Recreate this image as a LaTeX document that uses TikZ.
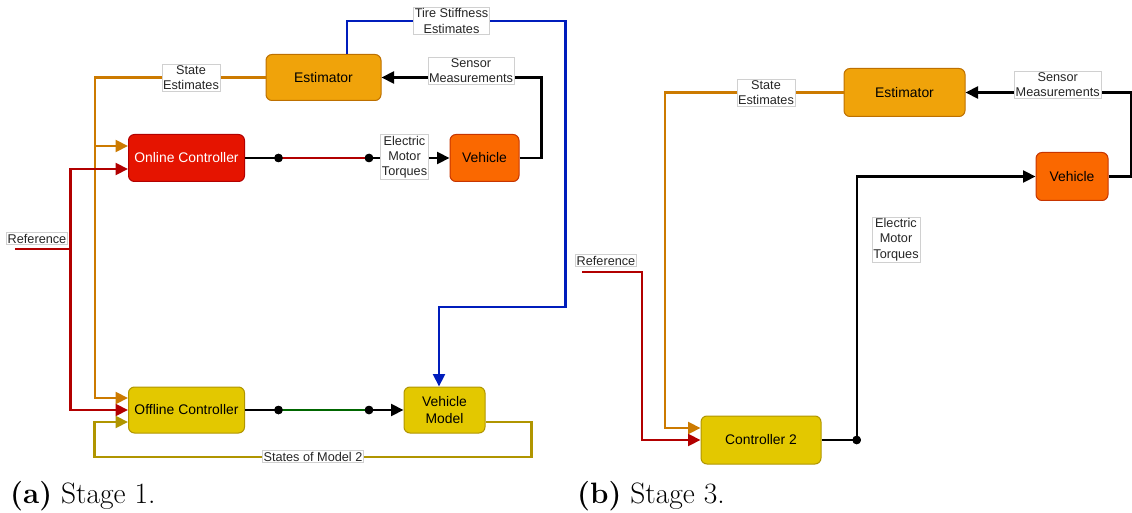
\documentclass[tikz,border=0pt]{standalone}
\usepackage{fontspec}
\newfontfamily\dsans{Liberation Sans}
\usetikzlibrary{arrows.meta,calc}
\definecolor{estF}{HTML}{F0A30A}\definecolor{estD}{HTML}{BD7000}
\definecolor{onF}{HTML}{E51400}\definecolor{onD}{HTML}{B20000}
\definecolor{vehF}{HTML}{FA6800}\definecolor{vehD}{HTML}{C73500}
\definecolor{offF}{HTML}{E3C800}\definecolor{offD}{HTML}{B09500}
\definecolor{orL}{HTML}{CC7A00}\definecolor{redL}{HTML}{B20000}
\definecolor{bluL}{HTML}{001DBC}\definecolor{grnL}{HTML}{006600}
\definecolor{olL}{HTML}{B09500}\definecolor{lblD}{HTML}{D0D0D0}
\tikzset{
  blockbox/.style={draw, rounded corners=6pt, line width=1pt, align=center, inner sep=0pt,
    font=\dsans\fontsize{13.9}{16.5}\selectfont},
  estbox/.style={blockbox, fill=estF, draw=estD},
  onbox/.style={blockbox, fill=onF, draw=onD, text=white},
  vehbox/.style={blockbox, fill=vehF, draw=vehD},
  offbox/.style={blockbox, fill=offF, draw=offD},
  lbl/.style={fill=white, draw=lblD, line width=0.5pt, inner sep=1.2pt, align=center,
    font=\dsans\fontsize{12.7}{15.2}\selectfont, text=black!85},
  wire/.style={line width=2.2pt},
  tip/.style={-{Triangle[length=12.5pt,width=12pt]}},
  jdot/.style={circle, fill=black, inner sep=0pt, minimum size=8.5pt},
  capt/.style={anchor=base west, inner sep=0pt, font=\fontsize{29.5}{33}\selectfont}
}
\begin{document}
\begin{tikzpicture}[x=1pt,y=-1pt]
\useasboundingbox (0,0) rectangle (1132,513);
% ---------- panel (a) ----------
\node[estbox, minimum width=115pt, minimum height=46pt] (estA) at (323.5,77.5) {Estimator};
\node[onbox, minimum width=116pt, minimum height=47pt] (onA) at (186.5,158) {Online Controller};
\node[vehbox, minimum width=69pt, minimum height=47pt] (vehA) at (484.5,158) {Vehicle};
\node[offbox, minimum width=116pt, minimum height=46pt] (offA) at (186.5,410) {Offline Controller};
\node[offbox, minimum width=81pt, minimum height=46pt] (vmA) at (444.5,410) {Vehicle\\Model};
\node[jdot] (d1) at (278.5,158) {};
\node[jdot] (d2) at (369,158) {};
\node[jdot] (d3) at (278.5,410) {};
\node[jdot] (d4) at (369,410) {};
\coordinate (refA) at (15,249);
% wires
\draw[wire, orL, tip] (estA.west) -| (95,398) -- ($(offA.west)+(0,-12)$);
\draw[wire, orL, tip] (95,146) -- ($(onA.west)+(0,-12)$);
\draw[wire, redL, tip] (refA) -| (70.5,169) -- ($(onA.west)+(0,11)$);
\draw[wire, redL, tip] (70.5,249) -- (70.5,410) -- (offA.west);
\draw[wire, olL, tip] ($(vmA.east)+(0,12)$) -- (531.5,422) -- (531.5,456.7) -- (94.5,456.7) -- (94.5,422) -- ($(offA.west)+(0,12)$);
\draw[wire, black] (onA.east) -- (d1.center);
\draw[wire, redL] (d1.center) -- (d2.center);
\draw[wire, black, tip] (d2.center) -- (vehA.west);
\draw[wire, black] (offA.east) -- (d3.center);
\draw[wire, grnL] (d3.center) -- (d4.center);
\draw[wire, black, tip] (d4.center) -- (vmA.west);
\draw[wire, black, tip] (vehA.east) -- (541.5,158) -- (541.5,77.5) -- (estA.east);
\draw[wire, bluL, tip] ($(estA.north)+(23.5,0)$) |- (565.5,21) |- (439,306.7) -- ($(vmA.north)+(-5.5,0)$);
\node[jdot] at (d1) {};\node[jdot] at (d2) {};\node[jdot] at (d3) {};\node[jdot] at (d4) {};
% labels
\node[lbl] (lStA) at (191,77.5) {State\\Estimates};
\node[lbl] (lSmA) at (471,71) {Sensor\\Measurements};
\node[lbl] (lTs) at (451.5,21) {Tire Stiffness\\Estimates};
\node[lbl] (lEmA) at (404.5,157) {Electric\\Motor\\Torques};
\node[lbl] (lRefA) at (37,238.5) {Reference};
\node[lbl] (lSm2) at (313,456.5) {States of Model 2};
\node[capt] (capA) at (10,503) {\textbf{(a)} Stage 1.};
% ---------- panel (b) ----------
\node[estbox, minimum width=121pt, minimum height=48pt] (estB) at (904.5,92.5) {Estimator};
\node[vehbox, minimum width=72pt, minimum height=48pt] (vehB) at (1072,176.5) {Vehicle};
\node[offbox, minimum width=120pt, minimum height=48pt] (c2) at (761,440) {Controller 2};
\node[jdot] (dB) at (856.7,440) {};
\coordinate (refB) at (582,272);
\draw[wire, orL, tip] (estB.west) -| (665,428) -- ($(c2.west)+(0,-12)$);
\draw[wire, redL, tip] (refB) -| (641.7,440) -- (c2.west);
\draw[wire, black, tip] (c2.east) -- (dB.center) |- (vehB.west);
\draw[wire, black, tip] (vehB.east) -- (1131,176.5) |- (estB.east);
\node[jdot] at (dB) {};
\node[lbl] (lStB) at (766,92.5) {State\\Estimates};
\node[lbl] (lSmB) at (1057.7,84.5) {Sensor\\Measurements};
\node[lbl] (lEmB) at (896,239.7) {Electric\\Motor\\Torques};
\node[lbl] (lRefB) at (606,260.5) {Reference};
\node[capt] (capB) at (577,503) {\textbf{(b)} Stage 3.};
\end{tikzpicture}
\end{document}
